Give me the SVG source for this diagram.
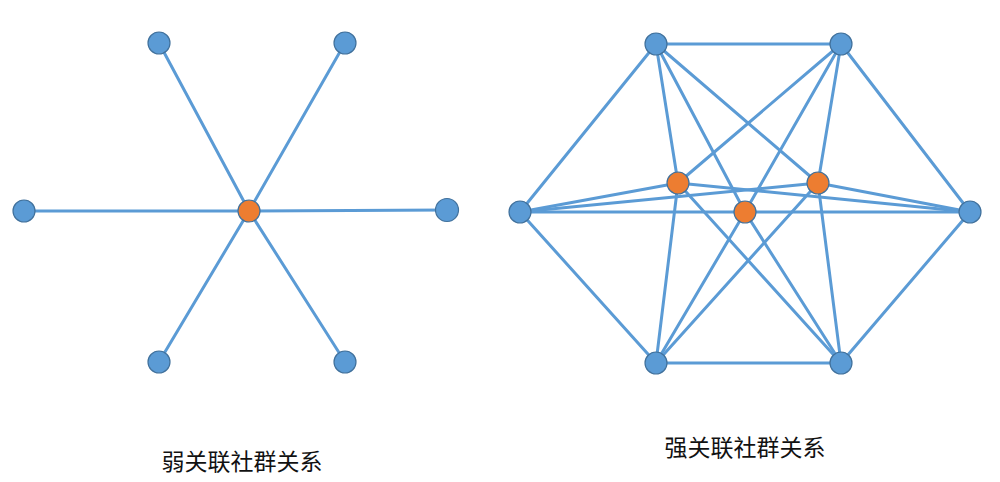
<svg xmlns="http://www.w3.org/2000/svg" width="1000" height="482" viewBox="0 0 1000 482">
<style>
.e{stroke:#5B9BD5;stroke-width:3;fill:none;stroke-linecap:round}
.b{fill:#5B9BD5;stroke:#41719C;stroke-width:1.2}
.o{fill:#ED7D31;stroke:#41719C;stroke-width:1.2}
.t{font-family:"Noto Sans CJK SC","Noto Sans CJK JP",sans-serif;font-size:23px;fill:#111;text-anchor:middle}
</style>
<rect width="1000" height="482" fill="#fff"/>
<g id="connectors">
<line class="e" x1="159" y1="43" x2="249" y2="211"/>
<line class="e" x1="345" y1="43" x2="249" y2="211"/>
<line class="e" x1="24" y1="211" x2="249" y2="211"/>
<line class="e" x1="447" y1="210" x2="249" y2="211"/>
<line class="e" x1="159" y1="362" x2="249" y2="211"/>
<line class="e" x1="345" y1="362" x2="249" y2="211"/>
<line class="e" x1="656" y1="44" x2="841" y2="44"/>
<line class="e" x1="656" y1="363" x2="841" y2="363"/>
<line class="e" x1="656" y1="44" x2="520" y2="212"/>
<line class="e" x1="520" y1="212" x2="656" y2="363"/>
<line class="e" x1="841" y1="44" x2="970" y2="212"/>
<line class="e" x1="970" y1="212" x2="841" y2="363"/>
<line class="e" x1="520" y1="212" x2="970" y2="212"/>
<line class="e" x1="656" y1="44" x2="678" y2="183"/>
<line class="e" x1="656" y1="44" x2="745" y2="212"/>
<line class="e" x1="656" y1="44" x2="818" y2="183"/>
<line class="e" x1="841" y1="44" x2="678" y2="183"/>
<line class="e" x1="841" y1="44" x2="745" y2="212"/>
<line class="e" x1="841" y1="44" x2="818" y2="183"/>
<line class="e" x1="656" y1="363" x2="678" y2="183"/>
<line class="e" x1="656" y1="363" x2="745" y2="212"/>
<line class="e" x1="656" y1="363" x2="818" y2="183"/>
<line class="e" x1="841" y1="363" x2="678" y2="183"/>
<line class="e" x1="841" y1="363" x2="745" y2="212"/>
<line class="e" x1="841" y1="363" x2="818" y2="183"/>
<line class="e" x1="520" y1="212" x2="678" y2="183"/>
<line class="e" x1="520" y1="212" x2="818" y2="183"/>
<line class="e" x1="970" y1="212" x2="678" y2="183"/>
<line class="e" x1="970" y1="212" x2="818" y2="183"/>
</g>
<g id="weak-tl"><circle class="b" cx="159" cy="43" r="11"/></g>
<g id="weak-tr"><circle class="b" cx="345" cy="43" r="11"/></g>
<g id="weak-l"><circle class="b" cx="24" cy="211" r="11"/></g>
<g id="weak-r"><circle class="b" cx="447" cy="210" r="11.5"/></g>
<g id="weak-bl"><circle class="b" cx="159" cy="362" r="11"/></g>
<g id="weak-br"><circle class="b" cx="345" cy="362" r="11"/></g>
<g id="weak-center"><circle class="o" cx="249" cy="211" r="11"/></g>
<g id="strong-tl"><circle class="b" cx="656" cy="44" r="11"/></g>
<g id="strong-tr"><circle class="b" cx="841" cy="44" r="11"/></g>
<g id="strong-l"><circle class="b" cx="520" cy="212" r="11"/></g>
<g id="strong-r"><circle class="b" cx="970" cy="212" r="11"/></g>
<g id="strong-bl"><circle class="b" cx="656" cy="363" r="11"/></g>
<g id="strong-br"><circle class="b" cx="841" cy="363" r="11"/></g>
<g id="strong-o1"><circle class="o" cx="678" cy="183" r="11"/></g>
<g id="strong-o2"><circle class="o" cx="818" cy="183" r="11"/></g>
<g id="strong-o3"><circle class="o" cx="745" cy="212" r="11"/></g>
<g id="label-weak"><text class="t" x="242" y="470">弱关联社群关系</text></g>
<g id="label-strong"><text class="t" x="745" y="456">强关联社群关系</text></g>
</svg>
